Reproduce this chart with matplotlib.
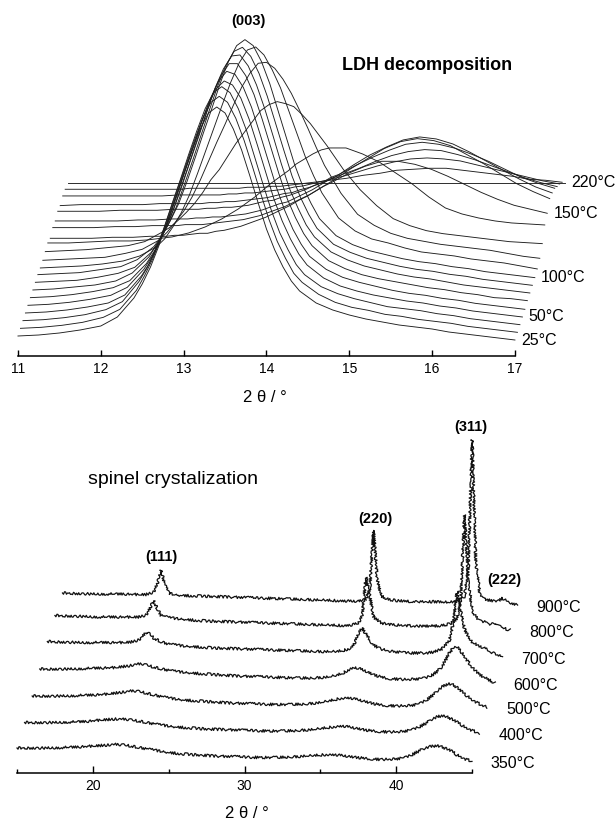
import numpy as np
import matplotlib
matplotlib.use("Agg")
import matplotlib.pyplot as plt

plt.rcParams['font.family'] = ['Liberation Sans', 'DejaVu Sans']

# ---- LDH (003) reflection, one scan per temperature ----
ldh_2theta = [11.0, 11.25, 11.5, 11.75, 12.0, 12.2, 12.4, 12.5, 12.6, 12.7, 12.8, 12.9,
              13.0, 13.1, 13.2, 13.3, 13.4, 13.5, 13.6, 13.7, 13.8, 13.9, 14.0, 14.1,
              14.2, 14.3, 14.4, 14.6, 14.8, 15.0, 15.2, 15.4, 15.6, 15.8, 16.0, 16.2,
              16.4, 16.6, 16.8, 17.0]
ldh_temps = [25, 30, 40, 50, 60, 70, 80, 90, 100, 110, 120, 130, 140, 150, 160, 170,
             180, 190, 200, 210, 220]
ldh_labelled = [25, 50, 100, 150, 220]

ldh_25 = [10, 11, 13, 16, 20, 29, 48, 62, 79, 100, 124, 148, 172, 196, 217, 233, 239, 233, 217, 196,
          170, 143, 117, 96, 79, 65, 55, 43, 36, 31, 27, 24, 21, 19, 17, 14, 12, 10, 8, 6]
ldh_30 = [10, 11, 13, 16, 21, 29, 48, 63, 80, 102, 126, 150, 174, 198, 220, 236, 242, 236, 220, 198,
          172, 145, 119, 97, 80, 65, 56, 44, 36, 31, 28, 24, 22, 19, 17, 15, 12, 10, 8, 6]
ldh_40 = [10, 11, 13, 16, 21, 29, 49, 63, 81, 102, 127, 151, 176, 200, 222, 238, 244, 238, 222, 200,
          173, 146, 120, 98, 81, 66, 56, 44, 37, 32, 28, 24, 22, 20, 17, 15, 12, 10, 8, 6]
ldh_50 = [10, 11, 13, 16, 20, 28, 47, 60, 77, 98, 122, 146, 170, 195, 217, 234, 242, 238, 225, 204,
          178, 151, 124, 102, 84, 69, 58, 45, 37, 32, 28, 25, 22, 20, 17, 15, 12, 10, 8, 6]
ldh_60 = [10, 11, 13, 16, 20, 28, 46, 59, 76, 96, 120, 145, 169, 194, 216, 234, 244, 241, 228, 208,
          182, 155, 128, 105, 86, 71, 59, 46, 38, 33, 29, 25, 22, 20, 17, 15, 12, 10, 8, 6]
ldh_70 = [10, 11, 13, 16, 20, 27, 44, 57, 73, 92, 116, 140, 165, 189, 213, 232, 244, 244, 232, 213,
          188, 161, 134, 109, 90, 74, 62, 47, 39, 33, 29, 26, 23, 20, 18, 15, 13, 10, 9, 7]
ldh_80 = [10, 11, 13, 15, 19, 27, 43, 56, 72, 91, 114, 139, 163, 188, 212, 231, 244, 245, 234, 215,
          191, 164, 136, 111, 92, 75, 63, 48, 40, 34, 30, 26, 23, 21, 18, 15, 13, 11, 9, 7]
ldh_90 = [10, 11, 12, 15, 19, 25, 40, 52, 67, 85, 108, 132, 157, 182, 206, 227, 241, 245, 236, 219,
          196, 169, 142, 116, 95, 78, 64, 48, 40, 34, 30, 26, 23, 21, 18, 16, 13, 11, 9, 7]
ldh_100 = [10, 11, 12, 15, 18, 25, 38, 49, 64, 81, 103, 127, 152, 176, 201, 223, 239, 245, 239, 223,
           201, 174, 147, 120, 98, 81, 66, 49, 40, 34, 30, 26, 23, 21, 18, 16, 13, 11, 9, 7]
ldh_110 = [9, 10, 11, 13, 16, 21, 30, 38, 50, 64, 82, 104, 127, 150, 173, 195, 214, 227, 230, 222,
           207, 189, 166, 143, 120, 101, 84, 59, 46, 38, 34, 29, 25, 23, 21, 18, 16, 14, 11, 8]
ldh_120 = [9, 10, 11, 12, 16, 20, 29, 37, 47, 58, 72, 89, 108, 127, 145, 164, 182, 196, 206, 207,
           201, 190, 176, 159, 141, 122, 104, 76, 55, 44, 36, 31, 28, 25, 23, 21, 19, 16, 13, 11]
ldh_130 = [10, 11, 12, 14, 16, 20, 29, 34, 41, 49, 58, 69, 82, 92, 105, 118, 129, 140, 151, 157,
           160, 158, 155, 147, 138, 127, 116, 92, 72, 56, 43, 36, 31, 28, 26, 24, 22, 20, 19, 18]
ldh_140 = [11, 11, 12, 13, 13, 14, 16, 17, 19, 21, 24, 27, 31, 35, 40, 45, 51, 57, 64, 71,
           77, 83, 90, 95, 100, 104, 106, 106, 100, 92, 81, 70, 57, 46, 40, 36, 33, 31, 30, 29]
ldh_150 = [8, 8, 8, 9, 9, 10, 10, 11, 11, 12, 13, 13, 15, 16, 18, 20, 23, 26, 29, 33,
           37, 41, 46, 50, 55, 60, 64, 73, 80, 85, 85, 82, 77, 70, 62, 54, 47, 41, 37, 33]
ldh_160 = [11, 11, 11, 12, 12, 13, 13, 13, 14, 14, 14, 15, 16, 17, 18, 19, 21, 23, 26, 29,
           32, 36, 40, 44, 49, 54, 59, 70, 80, 90, 97, 100, 98, 93, 84, 75, 65, 55, 47, 40]
ldh_170 = [10, 10, 10, 10, 11, 11, 12, 12, 12, 13, 13, 14, 14, 15, 16, 17, 19, 21, 24, 27,
           29, 33, 37, 41, 46, 51, 55, 66, 76, 84, 91, 94, 92, 87, 79, 70, 61, 52, 44, 38]
ldh_180 = [12, 12, 12, 13, 13, 13, 14, 14, 14, 14, 15, 15, 16, 16, 17, 18, 20, 22, 23, 26,
           28, 31, 34, 38, 41, 46, 49, 58, 66, 73, 79, 81, 79, 75, 69, 62, 54, 46, 40, 35]
ldh_190 = [10, 11, 11, 11, 11, 12, 12, 12, 12, 12, 13, 13, 14, 14, 15, 16, 17, 18, 20, 22,
           23, 26, 28, 31, 34, 38, 41, 47, 54, 60, 64, 66, 65, 61, 56, 50, 44, 38, 33, 29]
ldh_200 = [12, 12, 12, 12, 12, 12, 13, 13, 13, 13, 13, 13, 14, 14, 15, 15, 16, 17, 18, 19,
           21, 22, 24, 26, 28, 30, 32, 37, 42, 46, 49, 50, 49, 47, 43, 39, 35, 31, 27, 24]
ldh_210 = [11, 11, 11, 11, 11, 11, 11, 12, 12, 12, 12, 12, 12, 12, 13, 13, 13, 14, 14, 15,
           16, 17, 18, 19, 20, 21, 22, 25, 27, 30, 31, 32, 32, 30, 28, 26, 24, 21, 20, 18]
ldh_220 = [10, 10, 10, 10, 10, 10, 10, 10, 10, 10, 10, 10, 10, 10, 10, 10, 10, 10, 10, 10,
           10, 10, 10, 10, 10, 10, 10, 10, 10, 10, 10, 10, 10, 10, 10, 10, 10, 10, 10, 10]

# ---- spinel pattern after calcination ----
sp_2theta = [15, 16, 17, 18, 19, 20, 20.5, 21, 21.25, 21.5, 21.75, 22, 22.5, 23, 24, 25, 26,
             27, 28, 29, 30, 31, 32, 33, 34, 34.5, 35, 35.25, 35.5, 35.75, 36, 36.5, 37, 37.5,
             38, 39, 40, 40.5, 41, 41.5, 41.75, 42, 42.25, 42.5, 42.75, 43, 43.5, 43.75, 44,
             44.25, 44.5, 45]
sp_temps = [350, 400, 500, 600, 700, 800, 900]

sp_350 = [17, 17, 17, 17.5, 18, 19, 19.5, 20, 20.5, 20.6, 20.3, 20, 19, 17.5, 15, 12.5, 11,
          10, 9, 8.5, 8, 7.5, 7.5, 8, 9, 9.5, 10, 10.3, 10.5, 10.5, 10.3, 9.5, 8.5, 7.5,
          6.5, 5.5, 6, 7, 10, 14, 16, 17.5, 18.5, 19, 19, 18, 15, 13, 10, 8, 6, 4]
sp_400 = [16.5, 16.5, 16.5, 17, 17.5, 19, 19.5, 20, 20, 19.8, 19.5, 19, 18, 16.5, 14, 12, 11,
          10, 9.5, 9, 8.5, 8, 8, 8.5, 9.5, 10.5, 11.5, 12, 12.5, 13, 13, 12, 10.5, 9,
          8, 7, 7.5, 9, 12, 16, 19, 21, 22.5, 23, 22.5, 21, 17, 14.5, 12, 10, 8.5, 6]
sp_500 = [17, 17, 17, 17.5, 18, 19, 20, 21, 21.5, 22, 22, 21.5, 20, 18, 15, 13, 12,
          11, 10, 9.5, 9, 8.5, 8.5, 9, 10.5, 12, 13.5, 14.5, 15, 15.4, 15, 13.5, 11.5, 9.5,
          8, 7, 7.5, 9, 13, 19, 23, 26, 28, 29, 28, 25.5, 19, 16, 13, 11, 9, 6]
sp_600 = [18, 18, 18, 18.5, 19, 19.5, 20.5, 21.5, 22.5, 23, 23, 22, 20, 18, 15.5, 14, 13,
          12, 11, 10.5, 10, 9.5, 9, 9, 10, 11.5, 14, 16.5, 18.5, 19.5, 19, 16, 12.5, 10,
          8.5, 7.5, 8, 9.5, 13, 20, 27, 34, 39, 40, 36, 30, 20, 16, 12.5, 10, 8, 4]
sp_700 = [19.5, 19, 18.5, 18.5, 18.5, 18.5, 19, 21, 24, 28.5, 27, 23, 19, 17, 15, 14, 13,
          12.5, 12, 11.5, 11, 10.5, 10, 9.5, 9.5, 10.5, 13, 18, 28, 33.5, 27, 16, 12, 10,
          9, 8, 8, 9, 12, 20, 38, 70, 52, 32, 24, 19, 15, 13, 11.5, 9, 7, 4]
sp_800 = [19.5, 19, 18.5, 18, 18, 18, 18, 20, 26, 34.4, 26, 19.5, 17.5, 16.5, 15, 14, 13.5,
          13, 12.5, 12, 11.5, 11, 10.5, 10, 9.5, 10, 12, 20, 57.8, 40, 18, 12, 10.5, 10,
          9.5, 9, 9, 9.5, 11, 16, 35, 120, 55, 25, 18, 15, 12, 10.5, 11.7, 9, 7, 5]
sp_900 = [16, 15.5, 15, 15, 15, 14.5, 14.5, 17, 25, 38.5, 24, 16, 14, 13.5, 13, 12.5, 12,
          11.5, 11, 10.5, 10, 9.5, 9, 8.5, 8, 8, 10, 20, 78.6, 30, 13, 9.5, 8.5, 8,
          7.5, 7.5, 7, 7, 8, 12, 40, 169, 45, 16, 11, 9, 8, 8.5, 10.7, 8, 6.5, 4]

ldh_scans = [ldh_25, ldh_30, ldh_40, ldh_50, ldh_60, ldh_70, ldh_80, ldh_90, ldh_100,
             ldh_110, ldh_120, ldh_130, ldh_140, ldh_150, ldh_160, ldh_170, ldh_180,
             ldh_190, ldh_200, ldh_210, ldh_220]
sp_scans = [sp_350, sp_400, sp_500, sp_600, sp_700, sp_800, sp_900]

W, H = 616, 822
fig = plt.figure(figsize=(W / 100, H / 100), dpi=100)


def strip(ax):
    ax.patch.set_visible(False)
    for s in ('top', 'right', 'left'):
        ax.spines[s].set_visible(False)
    ax.set_yticks([])
    ax.spines['bottom'].set_linewidth(1.1)


# top: stacked scans, each shifted right and up
ax1 = fig.add_axes([0, 1 - 356 / H, 1, 356 / H])
ax1.set_xlim(10.783, 18.22)
ax1.set_ylim(-10, 346)
strip(ax1)
ax1.spines['bottom'].set_bounds(11, 17)
ax1.set_xticks(range(11, 18))
ax1.tick_params(axis='x', direction='in', length=4, width=1, labelsize=10, pad=4)

dx1, dy1 = 0.03, 7.67
for i, (t, scan) in enumerate(zip(ldh_temps, ldh_scans)):
    x = np.array(ldh_2theta) + i * dx1
    y = np.array(scan) + i * dy1
    ax1.plot(x, y, color='#1e1e1e', lw=0.65)
    if t in ldh_labelled:
        ax1.annotate(f'{t}°C', (x[-1], y[-1]), xytext=(4.5, 0), textcoords='offset points',
                     ha='left', va='center', fontsize=11.5)

fig.text(248 / W, 1 - 21 / H, '(003)', ha='center', va='center', fontsize=10.5, fontweight='bold')
fig.text(427 / W, 1 - 65 / H, 'LDH decomposition', ha='center', va='center', fontsize=13,
         fontweight='bold')
fig.text(265 / W, 1 - 398 / H, '2 θ / °', ha='center', va='center', fontsize=12)

# bottom: spinel crystallisation
ax2 = fig.add_axes([0, 1 - 773 / H, 1, 353 / H])
ax2.set_xlim(13.879, 54.486)
ax2.set_ylim(-8, 345)
strip(ax2)
ax2.spines['bottom'].set_bounds(15, 45)
ax2.set_xticks([20, 30, 40])
ax2.set_xticks([15, 25, 35, 45], minor=True)
ax2.tick_params(axis='x', which='major', direction='in', length=5, width=1, labelsize=10, pad=4)
ax2.tick_params(axis='x', which='minor', direction='in', length=3, width=1)

dx2, dy2 = 0.5, 26
for k, (t, scan) in enumerate(zip(sp_temps, sp_scans)):
    x = np.array(sp_2theta) + k * dx2
    y = np.array(scan) + k * dy2
    line, = ax2.plot(x, y, color='#111111', lw=0.9)
    # counting noise of the raw scans
    line.set_sketch_params(scale=1.3, length=0.8, randomness=4)
    ax2.annotate(f'{t}°C', (x[-1], y[-1]), xytext=(13.5, -1.5), textcoords='offset points',
                 ha='left', va='center', fontsize=11.5)

fig.text(88 / W, 1 - 480 / H, 'spinel crystalization', ha='left', va='center', fontsize=14)
for txt, px, py in [('(111)', 161, 557), ('(220)', 375, 519), ('(311)', 471, 427), ('(222)', 504, 580)]:
    fig.text(px / W, 1 - py / H, txt, ha='center', va='center', fontsize=10.5, fontweight='bold')
fig.text(247 / W, 1 - 813 / H, '2 θ / °', ha='center', va='center', fontsize=12)

fig.savefig('out.png', dpi=100)
